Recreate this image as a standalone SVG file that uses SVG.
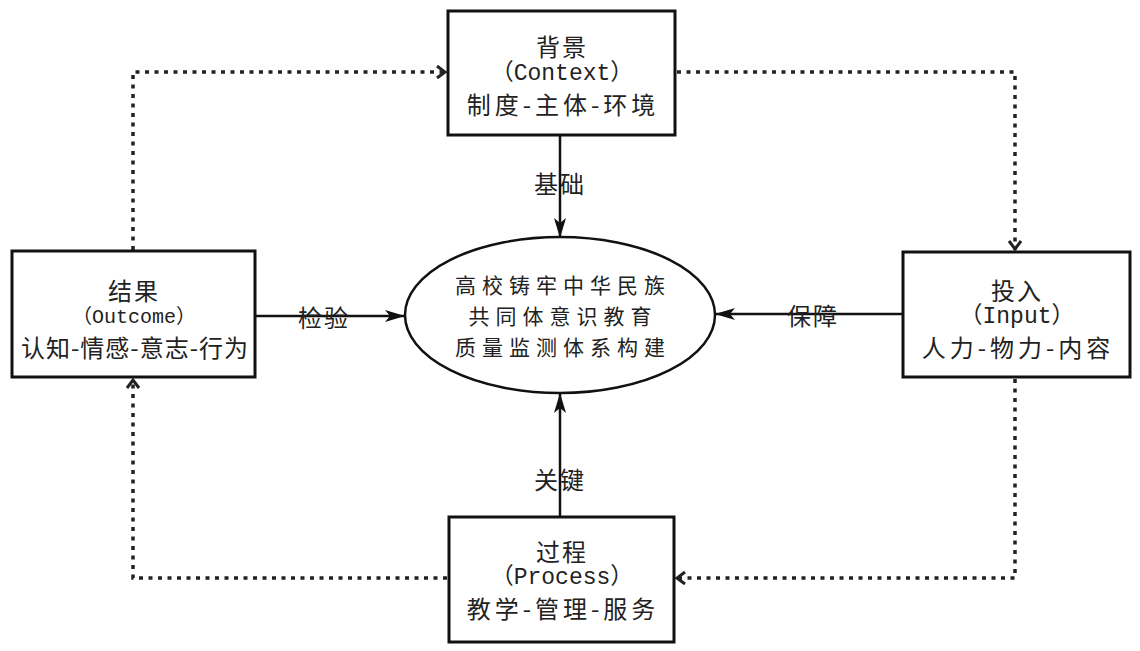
<svg xmlns="http://www.w3.org/2000/svg" width="1140" height="651" viewBox="0 0 1140 651">
<style>
.box{fill:#fff;stroke:#111;stroke-width:3}
.ell{fill:#fff;stroke:#111;stroke-width:2.5}
.t{font-family:"Noto Sans CJK SC","Noto Sans CJK JP",sans-serif;font-size:24px;fill:#222;text-anchor:middle;dominant-baseline:central}
.w{letter-spacing:4px}
.l{letter-spacing:2px}
.m{font-family:"Liberation Mono","Noto Sans CJK SC",monospace;font-size:23px;fill:#222;text-anchor:middle;dominant-baseline:central}
.e{font-family:"Noto Sans CJK SC","Noto Sans CJK JP",sans-serif;font-size:21px;fill:#222;text-anchor:middle;dominant-baseline:central;letter-spacing:6px}
.solid{fill:none;stroke:#111;stroke-width:2.5}
.dot{fill:none;stroke:#222;stroke-width:3.5;stroke-dasharray:4 5.5}
</style>
<defs>
<marker id="sa" viewBox="0 0 20 12" refX="19" refY="6" markerWidth="20" markerHeight="12" markerUnits="userSpaceOnUse" orient="auto">
<path d="M0,0 L20,6 L0,12 L5,6 Z" fill="#111"/>
</marker>
<marker id="oa" viewBox="0 0 12 14" refX="11" refY="7" markerWidth="12" markerHeight="14" markerUnits="userSpaceOnUse" orient="auto">
<path d="M2,1 L10,7 L2,13" fill="none" stroke="#222" stroke-width="3"/>
</marker>
</defs>
<g id="connectors">
<path class="dot" d="M133,250 L133,72 L446,72" marker-end="url(#oa)"/>
<path class="dot" d="M677,72 L1015,72 L1015,250" marker-end="url(#oa)"/>
<path class="dot" d="M1015,379 L1015,578 L676,578" marker-end="url(#oa)"/>
<path class="dot" d="M447,578 L133,578 L133,379" marker-end="url(#oa)"/>
<path class="solid" d="M560,135 L560,237" marker-end="url(#sa)"/>
<path class="solid" d="M560,517 L560,394" marker-end="url(#sa)"/>
<path class="solid" d="M255,316 L404,316" marker-end="url(#sa)"/>
<path class="solid" d="M903,314 L716,314" marker-end="url(#sa)"/>
<text class="t l" x="560" y="182">基础</text>
<text class="t l" x="560" y="478">关键</text>
<text class="t l" x="324" y="316">检验</text>
<text class="t l" x="813" y="314">保障</text>
</g>
<g id="context">
<rect class="box" x="448" y="11" width="227" height="124"/>
<text class="t l" x="562" y="45">背景</text>
<text class="m" x="562" y="74">（Context）</text>
<text class="t w" x="563" y="103">制度-主体-环境</text>
</g>
<g id="outcome">
<rect class="box" x="12" y="251" width="243" height="126"/>
<text class="t l" x="134" y="289">结果</text>
<text class="m" x="134" y="317" style="font-size:20px">（Outcome）</text>
<text class="t" x="135" y="346" style="letter-spacing:1px">认知-情感-意志-行为</text>
</g>
<g id="input">
<rect class="box" x="903" y="252" width="227" height="125"/>
<text class="t l" x="1017" y="289">投入</text>
<text class="m" x="1017" y="317">（Input）</text>
<text class="t w" x="1018" y="346">人力-物力-内容</text>
</g>
<g id="process">
<rect class="box" x="449" y="517" width="225" height="125"/>
<text class="t l" x="562" y="550">过程</text>
<text class="m" x="562" y="578">（Process）</text>
<text class="t w" x="563" y="607">教学-管理-服务</text>
</g>
<g id="center">
<ellipse class="ell" cx="560" cy="315" rx="155" ry="78"/>
<text class="e" x="563" y="284">高校铸牢中华民族</text>
<text class="e" x="563" y="315">共同体意识教育</text>
<text class="e" x="563" y="346">质量监测体系构建</text>
</g>
</svg>
